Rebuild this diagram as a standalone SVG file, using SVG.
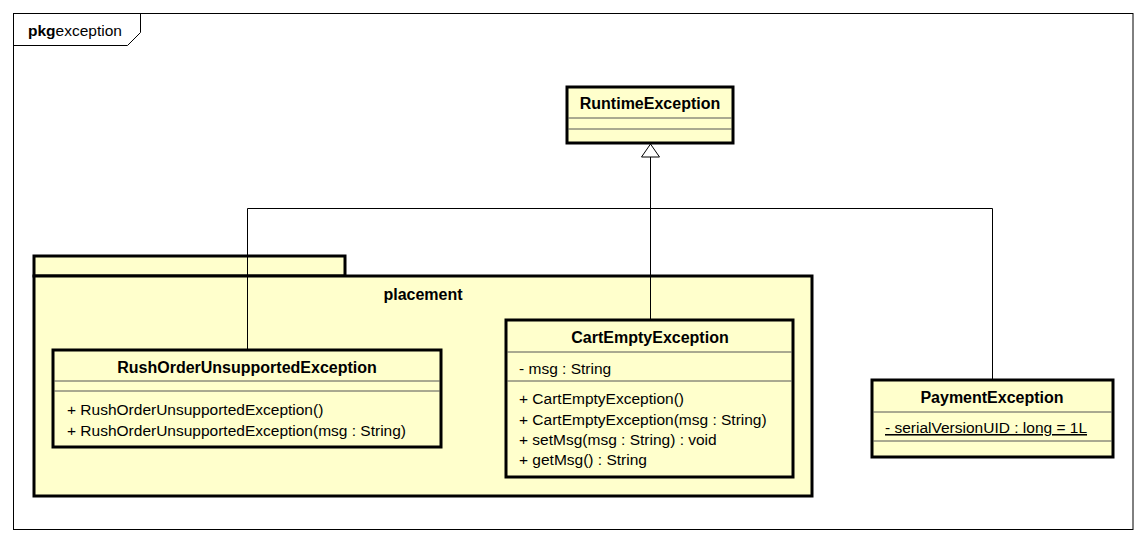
<svg xmlns="http://www.w3.org/2000/svg" width="1146" height="544" viewBox="0 0 1146 544">
<style>
  text { font-family: "Liberation Sans", Arial, sans-serif; font-size: 15.5px; fill: #000; }
  .b { font-weight: bold; font-size: 16px; }
  .c { text-anchor: middle; }
  .box { fill: #FFFFCC; stroke: #000; stroke-width: 3; }
  .sep { stroke: #555; stroke-width: 1; }
  .ln { stroke: #000; stroke-width: 1; fill: none; }
</style>
<rect width="1146" height="544" fill="#fff"/>
<g id="frame">
  <rect x="13.5" y="13.5" width="1119.5" height="516" fill="none" stroke="#000" stroke-width="1"/>
  <path d="M13.5 45.5 H127.5 L140.5 32.5 V13.5" fill="none" stroke="#000" stroke-width="1"/>
  <text x="28" y="36"><tspan style="font-weight:bold">pkg</tspan>exception</text>
</g>
<g id="placement">
  <rect class="box" x="34" y="256" width="311" height="20"/>
  <rect class="box" x="34" y="276" width="778" height="220"/>
  <text class="b c" x="423" y="300">placement</text>
</g>
<g id="connectors">
  <path class="ln" d="M650.5 157 V320"/>
  <path class="ln" d="M247.5 350 V208.5 H992.5 V380"/>
  <polygon points="650.5,144 641.5,157 659.5,157" fill="#fff" stroke="#000" stroke-width="1"/>
</g>
<g id="RuntimeException">
  <rect class="box" x="567" y="87" width="166" height="56"/>
  <line class="sep" x1="568" y1="118" x2="732" y2="118"/>
  <line class="sep" x1="568" y1="129" x2="732" y2="129"/>
  <text class="b c" x="650" y="109">RuntimeException</text>
</g>
<g id="RushOrderUnsupportedException">
  <rect class="box" x="53" y="350" width="388" height="97"/>
  <line class="sep" x1="54" y1="381" x2="440" y2="381"/>
  <line class="sep" x1="54" y1="391" x2="440" y2="391"/>
  <text class="b c" x="247" y="373">RushOrderUnsupportedException</text>
  <text x="67" y="415">+ RushOrderUnsupportedException()</text>
  <text x="67" y="436">+ RushOrderUnsupportedException(msg : String)</text>
</g>
<g id="CartEmptyException">
  <rect class="box" x="506" y="320" width="287" height="157"/>
  <line class="sep" x1="507" y1="352" x2="792" y2="352"/>
  <line class="sep" x1="507" y1="381" x2="792" y2="381"/>
  <text class="b c" x="650" y="343">CartEmptyException</text>
  <text x="519" y="374">- msg : String</text>
  <text x="519" y="404">+ CartEmptyException()</text>
  <text x="519" y="425">+ CartEmptyException(msg : String)</text>
  <text x="519" y="445">+ setMsg(msg : String) : void</text>
  <text x="519" y="465">+ getMsg() : String</text>
</g>
<g id="PaymentException">
  <rect class="box" x="872" y="380" width="241" height="77"/>
  <line class="sep" x1="873" y1="412" x2="1112" y2="412"/>
  <line class="sep" x1="873" y1="441" x2="1112" y2="441"/>
  <text class="b c" x="992" y="403">PaymentException</text>
  <text x="885" y="433" text-decoration="underline">- serialVersionUID : long = 1L</text>
</g>
</svg>
